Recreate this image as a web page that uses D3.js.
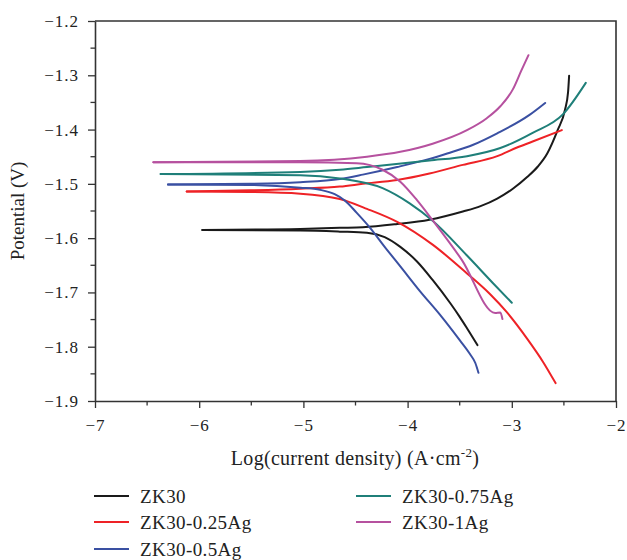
<!DOCTYPE html>
<html>
<head>
<meta charset="utf-8">
<script src="https://cdn.jsdelivr.net/npm/d3@7"></script>
<style>
  html, body { margin: 0; padding: 0; background: #fff; }
  svg { display: block; font-family: "Liberation Serif", "DejaVu Serif", serif; }
</style>
</head>
<body>
<svg id="chart" width="627" height="560"></svg>
<script>
// Potentiodynamic polarisation curves: [log current density, potential (V)]
// Each alloy has an anodic (upper) and a cathodic (lower) branch meeting at Ecorr.
const zk30Anodic = [[-5.97,-1.585],[-5.03,-1.583],[-4.65,-1.581],[-4.43,-1.580],[-4.10,-1.574],[-3.79,-1.566],[-3.47,-1.551],[-3.30,-1.541],[-3.14,-1.527],[-2.99,-1.509],[-2.85,-1.487],[-2.75,-1.468],[-2.66,-1.444],[-2.56,-1.401],[-2.49,-1.364],[-2.46,-1.331],[-2.45,-1.301]];
const zk30Cathodic = [[-5.97,-1.585],[-5.03,-1.586],[-4.65,-1.588],[-4.39,-1.590],[-4.22,-1.598],[-4.07,-1.616],[-3.91,-1.643],[-3.76,-1.677],[-3.59,-1.720],[-3.50,-1.745],[-3.43,-1.766],[-3.33,-1.797]];

const ag025Anodic = [[-6.12,-1.514],[-5.51,-1.512],[-5.03,-1.509],[-4.65,-1.505],[-4.43,-1.500],[-4.10,-1.493],[-3.79,-1.481],[-3.47,-1.465],[-3.14,-1.449],[-2.95,-1.433],[-2.80,-1.422],[-2.52,-1.401]];
const ag025Cathodic = [[-6.12,-1.514],[-5.51,-1.515],[-5.03,-1.518],[-4.65,-1.528],[-4.39,-1.546],[-4.10,-1.570],[-3.76,-1.612],[-3.43,-1.665],[-3.21,-1.703],[-3.05,-1.736],[-2.85,-1.786],[-2.70,-1.828],[-2.58,-1.867]];

const ag05Anodic = [[-6.30,-1.501],[-5.51,-1.500],[-5.03,-1.497],[-4.65,-1.491],[-4.43,-1.483],[-4.10,-1.469],[-3.79,-1.454],[-3.62,-1.444],[-3.37,-1.428],[-3.14,-1.407],[-2.83,-1.373],[-2.68,-1.351]];
const ag05Cathodic = [[-6.30,-1.501],[-5.51,-1.502],[-5.03,-1.507],[-4.84,-1.511],[-4.70,-1.519],[-4.60,-1.531],[-4.49,-1.553],[-4.36,-1.581],[-4.22,-1.616],[-4.07,-1.652],[-3.88,-1.698],[-3.69,-1.741],[-3.50,-1.788],[-3.40,-1.814],[-3.35,-1.830],[-3.32,-1.848]];

const ag075Anodic = [[-6.37,-1.482],[-5.03,-1.478],[-4.65,-1.474],[-4.39,-1.469],[-3.79,-1.457],[-3.43,-1.449],[-3.11,-1.434],[-2.80,-1.406],[-2.51,-1.372],[-2.29,-1.314]];
const ag075Cathodic = [[-6.37,-1.482],[-5.03,-1.484],[-4.65,-1.490],[-4.24,-1.508],[-3.98,-1.536],[-3.76,-1.568],[-3.43,-1.632],[-3.18,-1.683],[-3.00,-1.719]];

const ag1Anodic = [[-6.44,-1.460],[-5.03,-1.458],[-4.39,-1.450],[-4.07,-1.441],[-3.76,-1.426],[-3.43,-1.401],[-3.24,-1.379],[-3.11,-1.357],[-2.99,-1.326],[-2.91,-1.292],[-2.84,-1.263]];
const ag1Cathodic = [[-6.44,-1.460],[-5.03,-1.460],[-4.49,-1.462],[-4.24,-1.474],[-4.07,-1.496],[-3.91,-1.530],[-3.76,-1.567],[-3.48,-1.640],[-3.16,-1.738],[-3.11,-1.737],[-3.09,-1.749]];

const seriesNames = ["ZK30", "ZK30-0.25Ag", "ZK30-0.5Ag", "ZK30-0.75Ag", "ZK30-1Ag"];
const seriesColors = ["#1a1a1a", "#ee2226", "#3a50a2", "#1f7f79", "#b6519f"];
const seriesBranches = [
  [zk30Anodic, zk30Cathodic],
  [ag025Anodic, ag025Cathodic],
  [ag05Anodic, ag05Cathodic],
  [ag075Anodic, ag075Cathodic],
  [ag1Anodic, ag1Cathodic]
];

const xDomain = [-7, -2];
const yDomain = [-1.9, -1.2];
const xMajorTicks = [-7, -6, -5, -4, -3, -2];
const yMajorTicks = [-1.9, -1.8, -1.7, -1.6, -1.5, -1.4, -1.3, -1.2];

const margin = { left: 95, top: 21, right: 11, bottom: 159 };
const W = 627, H = 560;
const svg = d3.select("#chart");

const x = d3.scaleLinear().domain(xDomain).range([margin.left, W - margin.right]);
const y = d3.scaleLinear().domain(yDomain).range([H - margin.bottom, margin.top]);

const axisColor = "#333";
const textColor = "#222";
const fmtY = d3.format(".1f");
const fmtX = d3.format("d");

// minor ticks at half steps
const xMinor = d3.range(xDomain[0] + 0.5, xDomain[1], 1);
const yMinor = d3.range(0, 7).map(i => -1.85 + i * 0.1);

// frame: top and right edges
svg.append("path")
  .attr("d", `M${x(xDomain[0])},${y(yDomain[1])}H${x(xDomain[1])}V${y(yDomain[0])}`)
  .attr("fill", "none").attr("stroke", axisColor).attr("stroke-width", 1.6);

// x axis
const gx = svg.append("g").attr("transform", `translate(0,${y(yDomain[0])})`);
gx.call(d3.axisBottom(x).tickValues(xMajorTicks).tickFormat(fmtX).tickSize(7).tickSizeOuter(0).tickPadding(11));
gx.append("g").selectAll("line").data(xMinor).join("line")
  .attr("x1", d => x(d)).attr("x2", d => x(d)).attr("y1", 0).attr("y2", 4.5)
  .attr("stroke", axisColor).attr("stroke-width", 1.3);

// y axis
const gy = svg.append("g").attr("transform", `translate(${x(xDomain[0])},0)`);
gy.call(d3.axisLeft(y).tickValues(yMajorTicks).tickFormat(fmtY).tickSize(7).tickSizeOuter(0).tickPadding(9));
gy.append("g").selectAll("line").data(yMinor).join("line")
  .attr("y1", d => y(d)).attr("y2", d => y(d)).attr("x1", 0).attr("x2", -4.5)
  .attr("stroke", axisColor).attr("stroke-width", 1.3);

[gx, gy].forEach(g => {
  g.select(".domain").attr("stroke", axisColor).attr("stroke-width", 1.6);
  g.selectAll(".tick line").attr("stroke", axisColor).attr("stroke-width", 1.3);
  g.selectAll(".tick text").attr("fill", textColor)
    .style("font-size", "17px").style("letter-spacing", "1px")
    .style("font-family", "'Liberation Serif', serif");
});

// axis titles
svg.append("text")
  .attr("transform", `translate(17,${(y(yDomain[0]) + y(yDomain[1])) / 2}) rotate(-90)`)
  .attr("text-anchor", "middle").attr("dominant-baseline", "central")
  .attr("fill", textColor).style("font-size", "19px")
  .text("Potential (V)");

const xt = svg.append("text")
  .attr("x", 355).attr("y", 465)
  .attr("text-anchor", "middle").attr("fill", textColor)
  .style("font-size", "20px").style("letter-spacing", "0.3px");
xt.append("tspan").text("Log(current density) (A·cm");
xt.append("tspan").attr("dy", -8).style("font-size", "13px").text("-2");
xt.append("tspan").attr("dy", 8).text(")");

// curves
const line = d3.line()
  .x(d => x(d[0])).y(d => y(d[1]))
  .curve(d3.curveMonotoneX);

const plot = svg.append("g");
seriesBranches.forEach((branches, i) => {
  branches.forEach(b => {
    plot.append("path")
      .datum(b)
      .attr("d", line)
      .attr("fill", "none")
      .attr("stroke", seriesColors[i])
      .attr("stroke-width", 2)
      .attr("stroke-linejoin", "round")
      .attr("stroke-linecap", "round");
  });
});

// legend: two columns
const legendPos = [[94, 496], [94, 522], [94, 549], [356, 496], [356, 522]];
const legend = svg.append("g");
seriesNames.forEach((name, i) => {
  const [lx, ly] = legendPos[i];
  legend.append("line")
    .attr("x1", lx).attr("x2", lx + 35).attr("y1", ly).attr("y2", ly)
    .attr("stroke", seriesColors[i]).attr("stroke-width", 2.2);
  legend.append("text")
    .attr("x", lx + 46).attr("y", ly).attr("dy", "0.35em")
    .attr("fill", textColor).style("font-size", "19px").style("letter-spacing", "0.4px")
    .text(name);
});
</script>
</body>
</html>
